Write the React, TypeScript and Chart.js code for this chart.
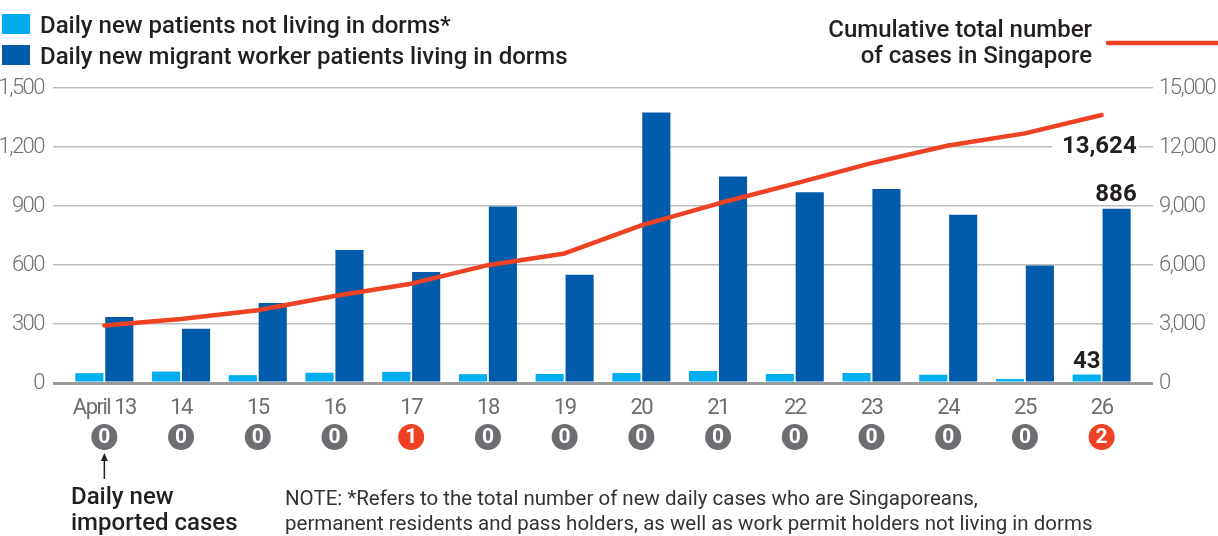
import React, { useEffect, useRef } from "react";
import { Chart, registerables } from "chart.js";

Chart.register(...registerables);

const categories = ["April 13", "14", "15", "16", "17", "18", "19", "20", "21", "22", "23", "24", "25", "26"];
const notInDorms = [50, 58, 40, 52, 57, 45, 46, 51, 61, 46, 51, 42, 20, 43];
const inDorms = [336, 276, 407, 676, 565, 897, 550, 1375, 1050, 970, 986, 855, 598, 886];
const cumulative = [2918, 3252, 3699, 4427, 5050, 5992, 6588, 8014, 9125, 10141, 11178, 12075, 12693, 13624];
const importedCases = [0, 0, 0, 0, 1, 0, 0, 0, 0, 0, 0, 0, 0, 2];
const leftTicks = [0, 300, 600, 900, 1200, 1500];
const rightTicks = [0, 3000, 6000, 9000, 12000, 15000];

const legendNotInDorms = "Daily new patients not living in dorms*";
const legendInDorms = "Daily new migrant worker patients living in dorms";
const legendCumulative = ["Cumulative total number", "of cases in Singapore"];
const importedLabel = ["Daily new", "imported cases"];
const noteLines = [
  "NOTE: *Refers to the total number of new daily cases who are Singaporeans,",
  "permanent residents and pass holders, as well as work permit holders not living in dorms",
];

const LIGHT = "#00aeef";
const DARK = "#005bab";
const RED = "#ef4123";
const CIRCLE_GRAY = "#6d6e71";
const TEXT = "#231f20";
const TICK_COLOR = "#707070";
const TICK_FONT = 'Roboto, "Noto Sans", sans-serif';
const MAIN_FONT = 'Roboto, "Noto Sans", sans-serif';

const fmt = (v: number) => v.toLocaleString("en-US");

const gridColor = (ctx: any) => (ctx.tick && ctx.tick.value === 0 ? "#9b9b9b" : "#bdbdbd");
const gridWidth = (ctx: any) => (ctx.tick && ctx.tick.value === 0 ? 3 : 1.5);

const condensePlugin = {
  id: "condense",
  beforeDraw(chart: any) {
    (chart.ctx as any).letterSpacing = "-1.5px";
  },
  beforeDatasetsDraw(chart: any) {
    (chart.ctx as any).letterSpacing = "0px";
  },
};

const overlayPlugin = {
  id: "overlay",
  afterDraw(chart: any) {
    const ctx = chart.ctx as CanvasRenderingContext2D;
    (ctx as any).letterSpacing = "0px";
    const x = chart.scales.x;
    const y1 = chart.scales.y1;
    const W = chart.width;
    ctx.save();

    // Legend (left)
    ctx.fillStyle = LIGHT;
    ctx.fillRect(2, 14, 28, 20);
    ctx.fillStyle = DARK;
    ctx.fillRect(2, 45, 28, 20);
    ctx.fillStyle = TEXT;
    ctx.font = `500 24px ${MAIN_FONT}`;
    ctx.textAlign = "left";
    ctx.textBaseline = "alphabetic";
    ctx.fillText(legendNotInDorms, 40, 33);
    ctx.fillText(legendInDorms, 40, 64);

    // Legend (right)
    ctx.textAlign = "right";
    ctx.fillText(legendCumulative[0], 1092, 37);
    ctx.fillText(legendCumulative[1], 1092, 63);
    ctx.strokeStyle = RED;
    ctx.lineWidth = 4.5;
    ctx.lineCap = "round";
    ctx.beginPath();
    ctx.moveTo(1108, 43);
    ctx.lineTo(W + 5, 43);
    ctx.stroke();

    // Annotations
    const lastIdx = categories.length - 1;
    const lastY = y1.getPixelForValue(cumulative[lastIdx]);
    const darkBar = chart.getDatasetMeta(1).data[lastIdx];
    const lightBar = chart.getDatasetMeta(0).data[lastIdx];
    const rightEdge = darkBar.x + darkBar.width / 2 + 6;
    ctx.font = `bold 24px ${MAIN_FONT}`;
    const cumText = fmt(cumulative[lastIdx]);
    const tw = ctx.measureText(cumText).width;
    ctx.fillStyle = "#ffffff";
    ctx.fillRect(rightEdge - tw - 10, lastY + 20, tw + 12, 26);
    ctx.fillStyle = TEXT;
    ctx.textAlign = "right";
    ctx.fillText(cumText, rightEdge, lastY + 38);
    ctx.fillText(fmt(inDorms[lastIdx]), rightEdge, darkBar.y - 8);
    ctx.textAlign = "center";
    ctx.fillText(fmt(notInDorms[lastIdx]), lightBar.x, lightBar.y - 7);

    // Imported-case circles
    const cy = 437;
    categories.forEach((_, i) => {
      const cx = x.getPixelForValue(i);
      ctx.fillStyle = importedCases[i] > 0 ? RED : CIRCLE_GRAY;
      ctx.beginPath();
      ctx.arc(cx, cy, 13, 0, Math.PI * 2);
      ctx.fill();
      ctx.fillStyle = "#ffffff";
      ctx.font = `bold 21px ${MAIN_FONT}`;
      ctx.textAlign = "center";
      ctx.textBaseline = "middle";
      ctx.fillText(String(importedCases[i]), cx, cy + 1);
    });

    // Arrow
    const ax = x.getPixelForValue(0);
    ctx.strokeStyle = TEXT;
    ctx.fillStyle = TEXT;
    ctx.lineWidth = 1.5;
    ctx.lineCap = "butt";
    ctx.beginPath();
    ctx.moveTo(ax, 479);
    ctx.lineTo(ax, 458);
    ctx.stroke();
    ctx.beginPath();
    ctx.moveTo(ax, 453);
    ctx.lineTo(ax - 3.5, 461);
    ctx.lineTo(ax + 3.5, 461);
    ctx.closePath();
    ctx.fill();

    ctx.textBaseline = "alphabetic";
    ctx.font = `500 24px ${MAIN_FONT}`;
    ctx.textAlign = "left";
    ctx.fillText(importedLabel[0], 71, 504);
    ctx.fillText(importedLabel[1], 71, 530);

    ctx.font = `20.5px ${MAIN_FONT}`;
    ctx.fillStyle = "#333333";
    ctx.fillText(noteLines[0], 285, 505);
    ctx.fillText(noteLines[1], 285, 530);

    ctx.restore();
  },
};

export default function App() {
  const canvasRef = useRef<HTMLCanvasElement | null>(null);

  useEffect(() => {
    document.body.style.margin = "0";
    const canvas = canvasRef.current;
    if (!canvas) return;
    const tickFont = { family: TICK_FONT, size: 22, weight: 300 as any };
    const xTickFont = { family: TICK_FONT, size: 22, weight: 400 as any };
    const chart = new Chart(canvas, {
      type: "bar",
      data: {
        labels: categories,
        datasets: [
          {
            type: "bar",
            label: legendNotInDorms,
            data: notInDorms,
            backgroundColor: LIGHT,
            yAxisID: "y",
            categoryPercentage: 0.78,
            barPercentage: 0.94,
            order: 2,
          },
          {
            type: "bar",
            label: legendInDorms,
            data: inDorms,
            backgroundColor: DARK,
            yAxisID: "y",
            categoryPercentage: 0.78,
            barPercentage: 0.94,
            order: 2,
          },
          {
            type: "line",
            label: legendCumulative.join(" "),
            data: cumulative,
            borderColor: RED,
            borderWidth: 4.5,
            pointRadius: 0,
            tension: 0,
            borderCapStyle: "round",
            borderJoinStyle: "round",
            yAxisID: "y1",
            order: 1,
          } as any,
        ],
      },
      options: {
        responsive: false,
        animation: false,
        devicePixelRatio: 1,
        layout: { padding: { top: 88, bottom: 0, left: 0, right: 0 } },
        plugins: {
          legend: { display: false },
          tooltip: { enabled: false },
          title: { display: false },
        },
        scales: {
          x: {
            offset: true,
            grid: { display: false },
            border: { display: false },
            ticks: {
              color: "#6d6e71",
              font: xTickFont,
              padding: 4,
              maxRotation: 0,
              autoSkip: false,
            },
            afterFit: (axis: any) => {
              axis.height = 153;
            },
          },
          y: {
            position: "left",
            min: leftTicks[0],
            max: leftTicks[leftTicks.length - 1],
            afterBuildTicks: (axis: any) => {
              axis.ticks = leftTicks.map((v) => ({ value: v }));
            },
            grid: {
              color: gridColor,
              lineWidth: gridWidth,
              drawTicks: true,
              tickLength: 13,
            },
            border: { display: false },
            ticks: {
              color: TICK_COLOR,
              font: tickFont,
              padding: 9,
              callback: (v: any) => fmt(Number(v)),
            },
            afterFit: (axis: any) => {
              axis.width = 66;
            },
          },
          y1: {
            position: "right",
            min: rightTicks[0],
            max: rightTicks[rightTicks.length - 1],
            afterBuildTicks: (axis: any) => {
              axis.ticks = rightTicks.map((v) => ({ value: v }));
            },
            grid: {
              color: gridColor,
              lineWidth: gridWidth,
              drawOnChartArea: false,
              drawTicks: true,
              tickLength: 13,
            },
            border: { display: false },
            ticks: {
              color: TICK_COLOR,
              font: tickFont,
              padding: 6,
              callback: (v: any) => fmt(Number(v)),
            },
            afterFit: (axis: any) => {
              axis.width = 78;
            },
          },
        },
      },
      plugins: [condensePlugin, overlayPlugin],
    });
    return () => chart.destroy();
  }, []);

  return (
    <div style={{ width: 1218, height: 536, position: "relative", background: "#fff" }}>
      <canvas ref={canvasRef} width={1218} height={536} style={{ display: "block" }} />
    </div>
  );
}
